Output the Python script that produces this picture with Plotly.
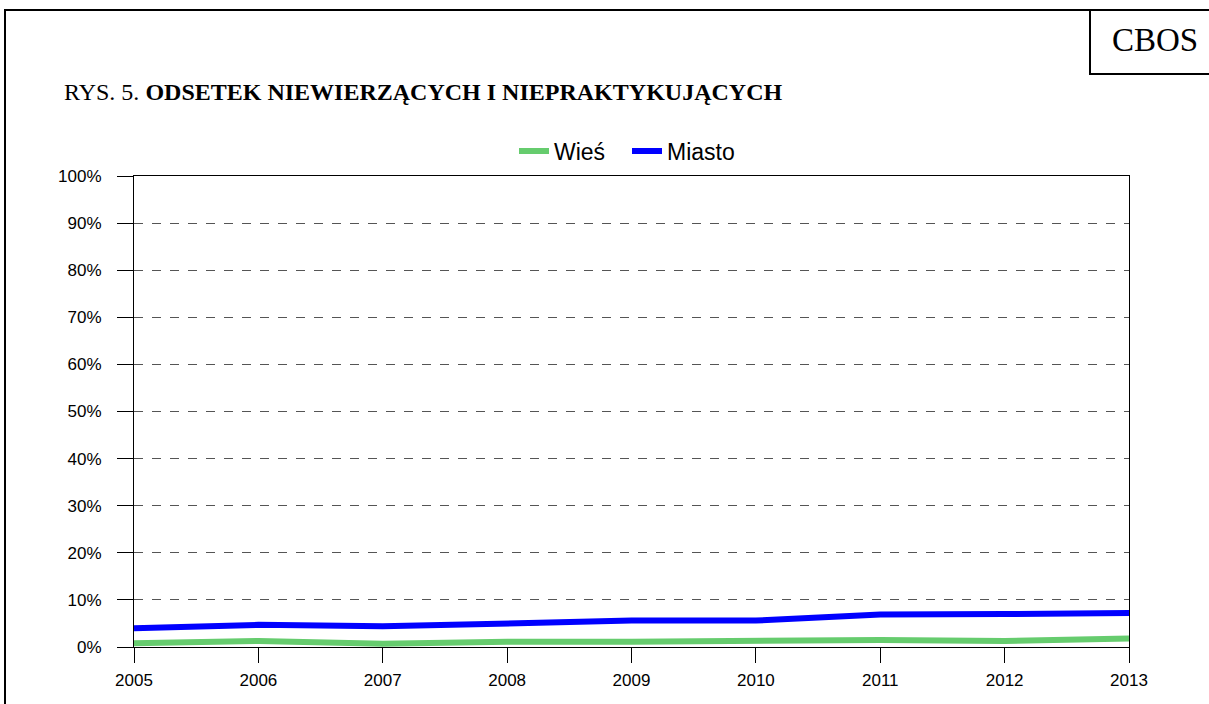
import plotly.graph_objects as go

#%% Data
years = [2005, 2006, 2007, 2008, 2009, 2010, 2011, 2012, 2013]
wies = [0.8, 1.3, 0.7, 1.1, 1.1, 1.3, 1.5, 1.3, 1.8]
miasto = [4.0, 4.7, 4.4, 5.0, 5.6, 5.6, 6.9, 7.0, 7.2]
y_ticks = list(range(0, 101, 10))
y_labels = [f"{v}%" for v in y_ticks]

#%% Layout helpers (pixel -> paper coords)
W, H = 1209, 704
L, T = 134, 176
PW, PH = 1129 - 134, 647 - 176
R, B = W - L - PW, H - T - PH


def px(x):
    return (x - L) / PW


def py(y):
    return (T + PH - y) / PH


#%% Figure
fig = go.Figure()
fig.add_trace(go.Scatter(x=years, y=wies, mode="lines", name="Wieś",
                         line=dict(color="#66cc6e", width=6)))
fig.add_trace(go.Scatter(x=years, y=miasto, mode="lines", name="Miasto",
                         line=dict(color="#0000ff", width=6)))

fig.update_layout(
    width=W, height=H,
    margin=dict(l=L, r=R, t=T, b=B),
    paper_bgcolor="white", plot_bgcolor="white",
    font=dict(family="Liberation Sans, Arial", size=17, color="black"),
    showlegend=True,
    legend=dict(orientation="h", x=px(627), xanchor="center", y=py(151), yanchor="middle",
                font=dict(size=23), itemwidth=30, entrywidth=68, entrywidthmode="pixels",
                bgcolor="rgba(0,0,0,0)"),
    xaxis=dict(range=[2005, 2013], tickvals=years, showgrid=False, zeroline=False,
               showline=True, linecolor="black", linewidth=1, mirror=True,
               ticks="outside", ticklen=15, tickcolor="black", ticklabelstandoff=3),
    yaxis=dict(range=[0, 100], tickvals=y_ticks, ticktext=y_labels,
               showgrid=True, gridcolor="#555555", griddash="dash", gridwidth=1,
               zeroline=False, showline=True, linecolor="black", linewidth=1,
               mirror=True, ticks="outside", ticklen=16, tickcolor="black",
               ticklabelstandoff=12),
)

# outer frame and CBOS box
fig.add_shape(type="rect", xref="paper", yref="paper",
              x0=px(5), x1=px(1225), y0=py(720), y1=py(10),
              line=dict(color="black", width=2), layer="above")
fig.add_shape(type="rect", xref="paper", yref="paper",
              x0=px(1090), x1=px(1225), y0=py(74), y1=py(10),
              line=dict(color="black", width=2), layer="above")
fig.add_annotation(xref="paper", yref="paper", x=px(1155), y=py(40),
                   text="CBOS", showarrow=False, xanchor="center", yanchor="middle",
                   font=dict(family="Liberation Serif, Times New Roman", size=33))
fig.add_annotation(xref="paper", yref="paper", x=px(62), y=py(92),
                   text="RYS. 5. <b>ODSETEK NIEWIERZĄCYCH I NIEPRAKTYKUJĄCYCH</b>",
                   showarrow=False, xanchor="left", yanchor="middle",
                   font=dict(family="Liberation Serif, Times New Roman", size=24))

# drop the default page margin so the figure sits at the window origin
fig.write_html("out.html", config={"displayModeBar": False},
               post_script="document.body.style.margin = '0';")
